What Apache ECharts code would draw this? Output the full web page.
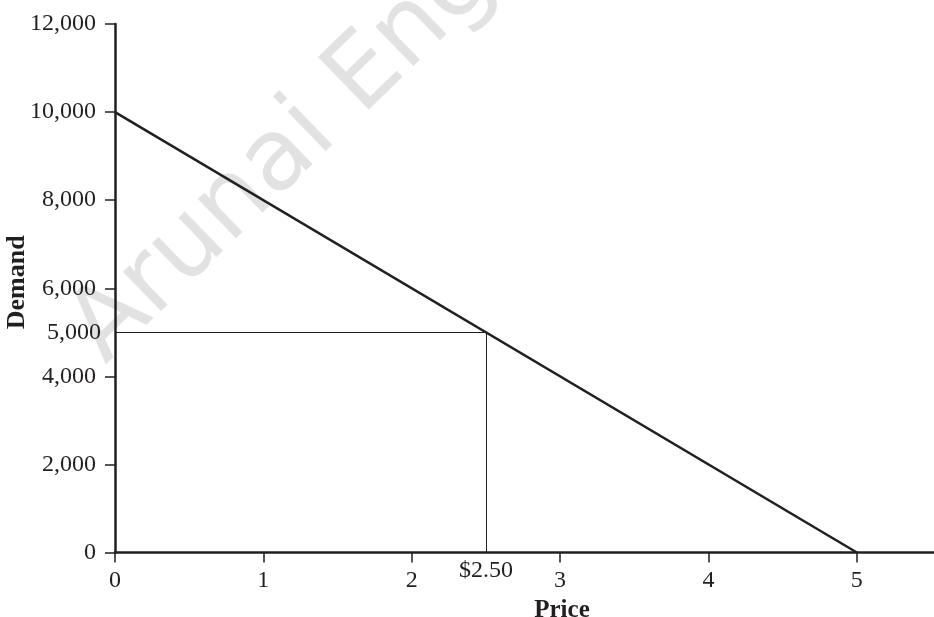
<!DOCTYPE html>
<html>
<head>
<meta charset="utf-8">
<script src="https://cdn.jsdelivr.net/npm/echarts@6/dist/echarts.min.js"></script>
<style>
    html,body{margin:0;padding:0;background:#fff;}
    #myChart{width:934px;height:617px;}
</style>
</head>
<body>
<div id="myChart"></div>
<script>
    // demand curve end points
    var price = [0, 5];
    var demand = [10000, 0];
    // equilibrium point
    var eqPrice = 2.5;
    var eqDemand = 5000;
    var xTicks = [0, 1, 2, 3, 4, 5];
    var yTicks = [0, 2000, 4000, 6000, 8000, 10000, 12000];

    var ink = '#231f20';
    var serif = 'Liberation Serif, Times New Roman, serif';

    var myChart = echarts.init(document.getElementById('myChart'));

    var option = {
        backgroundColor: '#fff',
        animation: false,
        grid: {left: 115, right: 0, top: 24, bottom: 64.5, containLabel: false, outerBoundsMode: 'none'},
        graphic: [{
            type: 'text',
            x: 122, y: 382,
            rotation: 0.77,
            silent: true,
            z: -10,
            style: {
                text: 'Arunai Engineering College',
                fill: '#e2e2e2',
                font: '100px DejaVu Sans, sans-serif',
                verticalAlign: 'bottom'
            }
        }],
        xAxis: {
            type: 'value',
            min: 0, max: 5.52, interval: 1,
            name: 'Price',
            nameLocation: 'middle',
            nameGap: 46,
            nameMoveOverlap: false,
            nameTextStyle: {fontFamily: serif, fontWeight: 'bold', fontSize: 25, color: ink, padding: [0, 0, 0, 75]},
            splitLine: {show: false},
            axisLine: {lineStyle: {color: ink, width: 2.5}},
            axisTick: {show: true, length: 10, lineStyle: {color: ink, width: 1.5}, customValues: xTicks},
            axisLabel: {fontFamily: serif, fontSize: 24, color: ink, margin: 16, customValues: xTicks}
        },
        yAxis: {
            type: 'value',
            min: 0, max: 12000, interval: 2000,
            name: 'Demand',
            nameLocation: 'middle',
            nameGap: 85,
            nameMoveOverlap: false,
            nameTextStyle: {fontFamily: serif, fontWeight: 'bold', fontSize: 26, color: ink, padding: [0, 0, 0, 12]},
            splitLine: {show: false},
            axisLine: {lineStyle: {color: ink, width: 2.5}},
            axisTick: {show: true, length: 10, lineStyle: {color: ink, width: 1.5}, customValues: yTicks},
            axisLabel: {
                fontFamily: serif, fontSize: 24, color: ink, margin: 19, customValues: yTicks,
                formatter: function (v) { return v.toLocaleString('en-US'); }
            }
        },
        series: [{
            type: 'line',
            data: price.map(function (p, i) { return [p, demand[i]]; }),
            symbol: 'none',
            lineStyle: {color: ink, width: 2.5},
            z: 5,
            markLine: {
                silent: true,
                symbol: 'none',
                lineStyle: {color: ink, width: 1, type: 'solid'},
                label: {fontFamily: serif, fontSize: 24, color: ink},
                data: [
                    [
                        {coord: [0, eqDemand], label: {position: 'start', distance: 14, formatter: eqDemand.toLocaleString('en-US')}},
                        {coord: [eqPrice, eqDemand]}
                    ],
                    [
                        {coord: [eqPrice, 0], label: {position: 'start', distance: 6, formatter: '$' + eqPrice.toFixed(2)}},
                        {coord: [eqPrice, eqDemand]}
                    ]
                ]
            }
        }]
    };

    myChart.setOption(option);
</script>
</body>
</html>
